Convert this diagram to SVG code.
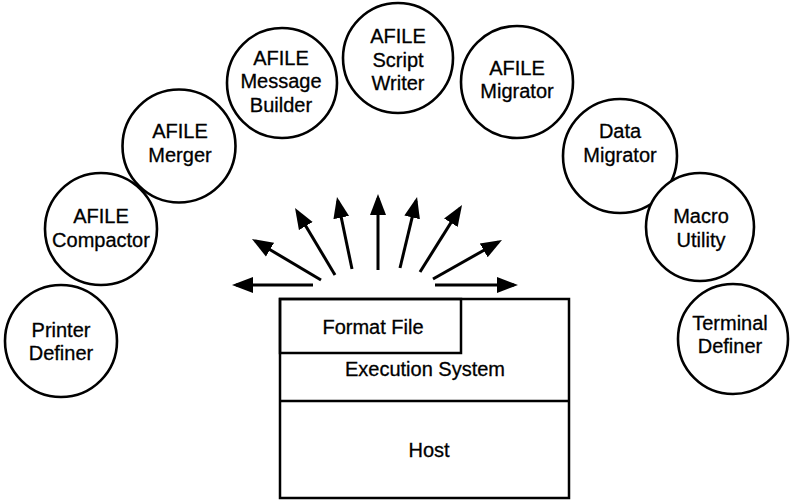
<svg xmlns="http://www.w3.org/2000/svg" width="791" height="500" viewBox="0 0 791 500">
  <style>
    .tool circle { fill: #fff; stroke: #000; stroke-width: 2.6; }
    text { font-family: "Liberation Sans", Arial, Helvetica, sans-serif; font-size: 20px; fill: #000; stroke: #000; stroke-width: 0.3; text-anchor: middle; }
    .frame { fill: none; stroke: #000; stroke-width: 2.5; }
    .ray { stroke: #000; stroke-width: 3; fill: none; marker-end: url(#head); }
  </style>
  <defs>
    <marker id="head" markerUnits="userSpaceOnUse" viewBox="0 -9 21 18" refX="17" refY="0" markerWidth="21" markerHeight="18" orient="auto">
      <path d="M0,-8 L21,0 L0,8 z" fill="#000"/>
    </marker>
  </defs>
  <rect width="791" height="500" fill="#fff"/>

  <!-- utilities arranged in an arc -->
  <g id="printer-definer" class="tool">
    <circle cx="61" cy="341" r="56"/>
    <text x="61" y="337">Printer</text>
    <text x="61" y="360">Definer</text>
  </g>
  <g id="afile-compactor" class="tool">
    <circle cx="101" cy="229" r="56"/>
    <text x="101" y="223">AFILE</text>
    <text x="101" y="247">Compactor</text>
  </g>
  <g id="afile-merger" class="tool">
    <circle cx="179" cy="146" r="56.5"/>
    <text x="180" y="138">AFILE</text>
    <text x="180" y="162">Merger</text>
  </g>
  <g id="afile-message-builder" class="tool">
    <circle cx="282" cy="83" r="55"/>
    <text x="281" y="65">AFILE</text>
    <text x="281" y="88">Message</text>
    <text x="281" y="112">Builder</text>
  </g>
  <g id="afile-script-writer" class="tool">
    <circle cx="398" cy="58" r="55"/>
    <text x="398" y="43">AFILE</text>
    <text x="398" y="67">Script</text>
    <text x="398" y="90">Writer</text>
  </g>
  <g id="afile-migrator" class="tool">
    <circle cx="517" cy="82" r="56"/>
    <text x="517" y="75">AFILE</text>
    <text x="517" y="98">Migrator</text>
  </g>
  <g id="data-migrator" class="tool">
    <circle cx="620" cy="156" r="57"/>
    <text x="620" y="138">Data</text>
    <text x="620" y="162">Migrator</text>
  </g>
  <g id="macro-utility" class="tool">
    <circle cx="700" cy="227" r="54"/>
    <text x="701" y="223">Macro</text>
    <text x="701" y="247">Utility</text>
  </g>
  <g id="terminal-definer" class="tool">
    <circle cx="733" cy="339" r="55"/>
    <text x="730" y="330">Terminal</text>
    <text x="730" y="353">Definer</text>
  </g>

  <!-- layered runtime block -->
  <g id="runtime-stack">
    <rect class="frame" x="280" y="299" width="289" height="199"/>
    <line class="frame" x1="280" y1="401" x2="569" y2="401"/>
    <text x="425" y="376">Execution System</text>
    <text x="429" y="457">Host</text>
  </g>
  <g id="format-file">
    <rect class="frame" x="280" y="299" width="181" height="54"/>
    <text x="373" y="334">Format File</text>
  </g>

  <!-- rays fanning out from the runtime block -->
  <g id="connectors">
    <line class="ray" x1="313" y1="285" x2="236" y2="285"/>
    <line class="ray" x1="321" y1="280" x2="255.4" y2="241"/>
    <line class="ray" x1="335" y1="275" x2="297.1" y2="211.4"/>
    <line class="ray" x1="352" y1="269" x2="337.8" y2="200.9"/>
    <line class="ray" x1="378" y1="270" x2="378" y2="198"/>
    <line class="ray" x1="400" y1="268" x2="416.1" y2="200.9"/>
    <line class="ray" x1="420" y1="272" x2="459.9" y2="208.4"/>
    <line class="ray" x1="433" y1="279" x2="498.5" y2="242"/>
    <line class="ray" x1="435" y1="285" x2="514" y2="285"/>
  </g>
</svg>
